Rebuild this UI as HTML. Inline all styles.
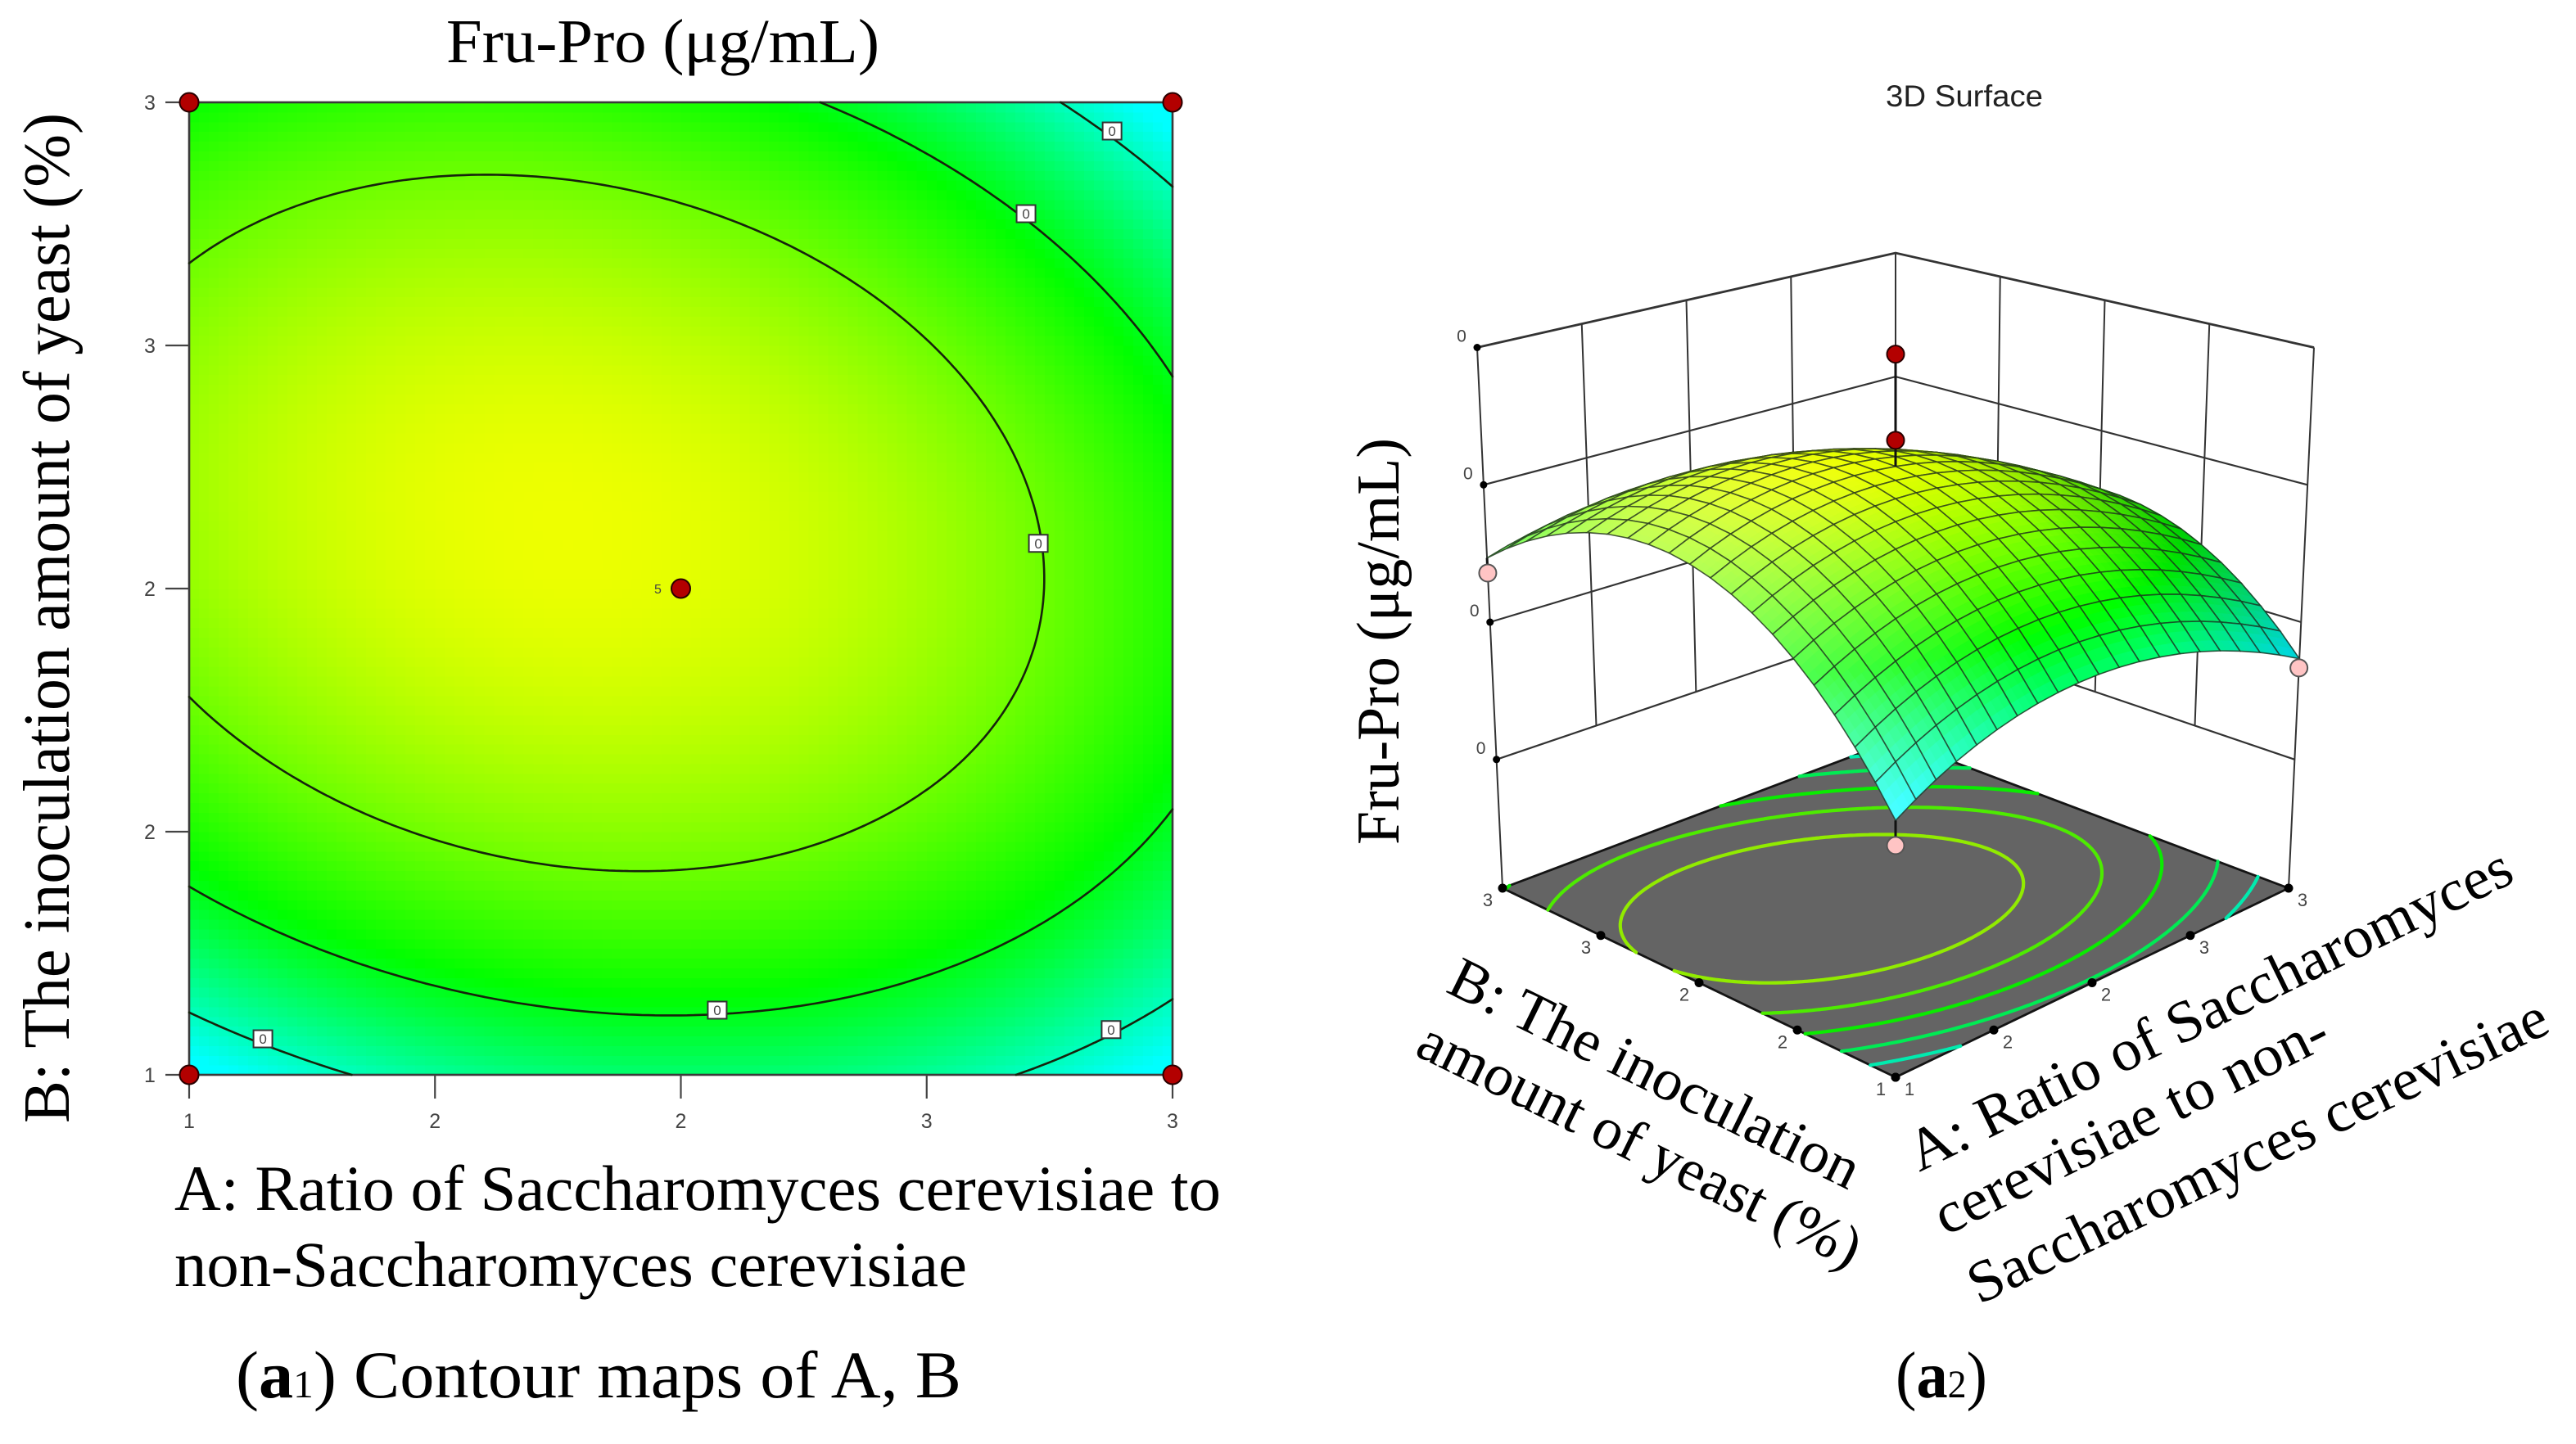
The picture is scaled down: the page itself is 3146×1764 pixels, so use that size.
<!DOCTYPE html>
<html lang="en">
<head>
<meta charset="utf-8">
<title>Fru-Pro contour map and 3D surface</title>
<style>
html,body{margin:0;padding:0;background:#fff;}
svg{display:block;}
.serif{font-family:"Liberation Serif","Noto Serif CJK SC",serif;fill:#000;}
.sans{font-family:"Liberation Sans",sans-serif;fill:#444;}
</style>
</head>
<body>
<svg id="figure" xmlns="http://www.w3.org/2000/svg" width="3146" height="1764" viewBox="0 0 3146 1764">
  <rect x="0" y="0" width="3146" height="1764" fill="#fff"/>

  <g id="contour-panel"></g>
  <g id="surface-panel"></g>

  <text class="serif" x="545" y="76" font-size="76" textLength="529" lengthAdjust="spacingAndGlyphs">Fru-Pro (μg/mL)</text>
  <text class="serif" transform="translate(84,1372) rotate(-90)" font-size="80" textLength="1234" lengthAdjust="spacingAndGlyphs">B: The inoculation amount of yeast (%)</text>
  <text class="serif" x="213" y="1478" font-size="78" textLength="1278" lengthAdjust="spacingAndGlyphs">A: Ratio of Saccharomyces cerevisiae to</text>
  <text class="serif" x="213" y="1571" font-size="78" textLength="968" lengthAdjust="spacingAndGlyphs">non-Saccharomyces cerevisiae</text>
  <text class="serif" x="288" y="1707" font-size="82" textLength="886" lengthAdjust="spacingAndGlyphs">(<tspan font-weight="bold">a</tspan><tspan font-size="48">1</tspan>) Contour maps of A, B</text>

  <text class="sans" x="2303" y="130" font-size="37" textLength="192" lengthAdjust="spacingAndGlyphs" style="fill:#222">3D Surface</text>
  <text class="serif" transform="translate(1708,1032) rotate(-90)" font-size="74" textLength="497" lengthAdjust="spacingAndGlyphs">Fru-Pro (μg/mL)</text>
  <text class="serif" transform="translate(1764,1211) rotate(26.2)" font-size="72" textLength="550" lengthAdjust="spacingAndGlyphs">B: The inoculation</text>
  <text class="serif" transform="translate(1726,1288) rotate(26.2)" font-size="72" textLength="594" lengthAdjust="spacingAndGlyphs">amount of yeast (%)</text>
  <text class="serif" transform="translate(2344,1432) rotate(-26)" font-size="72" textLength="812" lengthAdjust="spacingAndGlyphs">A: Ratio of Saccharomyces</text>
  <text class="serif" transform="translate(2376,1510) rotate(-26.3)" font-size="72" textLength="528" lengthAdjust="spacingAndGlyphs">cerevisiae to non-</text>
  <text class="serif" transform="translate(2417,1594) rotate(-25.5)" font-size="72" textLength="776" lengthAdjust="spacingAndGlyphs">Saccharomyces cerevisiae</text>
  <text class="serif" x="2315" y="1707" font-size="80" textLength="112" lengthAdjust="spacingAndGlyphs">(<tspan font-weight="bold">a</tspan><tspan font-size="48">2</tspan>)</text>
</svg>

<script>
/* ---------- chart data ---------- */
/* Response model in coded factors u=A-2, v=B-2: [intercept, u, v, uv, u^2, v^2] */
var modelCoefficients = [0.41874, -0.01881, 0.01787, -0.01935, -0.04462, -0.0834];

var factorTicks = [1, 1.5, 2, 2.5, 3];
var factorTickLabels = ['1', '2', '2', '3', '3'];

var contourLevels = [0.3805, 0.3388, 0.2971];
var floorContourLevels = [0.3963, 0.3722, 0.3485, 0.3221, 0.2971];

var contourLabelA = [2.877, 2.702, 2.727, 1.15, 2.074, 2.875];
var contourLabelB = [2.941, 2.771, 2.093, 1.074, 1.133, 1.093];
var contourLabelText = ['0', '0', '0', '0', '0', '0'];

var designPointA = [1, 1, 3, 3, 2];
var designPointB = [1, 3, 1, 3, 2];

var surfacePointA = [1, 1, 3, 2, 2];
var surfacePointB = [1, 3, 1, 2, 2];
var surfacePointZ = [0.2561, 0.3358, 0.2667, 0.4999, 0.4376];
var surfacePointKind = ['low', 'low', 'low', 'high', 'high'];

var zTicks = [0.2, 0.3, 0.4, 0.5];
var zTickLabels = ['0', '0', '0', '0'];
var zFloor = 0.1063;
var zTop = 0.5;

var colorStopZ = [0.2804, 0.3451, 0.4222];
var colorStopR = [0, 0, 238];
var colorStopG = [255, 255, 255];
var colorStopB = [255, 0, 0];

/* ---------- shared helpers ---------- */
var NS = 'http://www.w3.org/2000/svg';
function mk(tag, attrs, parent) {
  var el = document.createElementNS(NS, tag);
  for (var k in attrs) el.setAttribute(k, attrs[k]);
  parent.appendChild(el);
  return el;
}
function modelZ(A, B) {
  var u = A - 2, v = B - 2, c = modelCoefficients;
  return c[0] + c[1] * u + c[2] * v + c[3] * u * v + c[4] * u * u + c[5] * v * v;
}
function modelGrad(A, B) {
  var u = A - 2, v = B - 2, c = modelCoefficients;
  return [c[1] + c[3] * v + 2 * c[4] * u, c[2] + c[3] * u + 2 * c[5] * v];
}
function colorParts(z) {
  var n = colorStopZ.length;
  if (z <= colorStopZ[0]) return [colorStopR[0], colorStopG[0], colorStopB[0]];
  if (z >= colorStopZ[n - 1]) return [colorStopR[n - 1], colorStopG[n - 1], colorStopB[n - 1]];
  for (var i = 0; i < n - 1; i++) {
    if (z <= colorStopZ[i + 1]) {
      var t = (z - colorStopZ[i]) / (colorStopZ[i + 1] - colorStopZ[i]);
      return [
        colorStopR[i] + t * (colorStopR[i + 1] - colorStopR[i]),
        colorStopG[i] + t * (colorStopG[i + 1] - colorStopG[i]),
        colorStopB[i] + t * (colorStopB[i + 1] - colorStopB[i])
      ];
    }
  }
}
function rgb(p) {
  return 'rgb(' + Math.round(p[0]) + ',' + Math.round(p[1]) + ',' + Math.round(p[2]) + ')';
}
/* marching squares over the factor domain; mapper turns (A,B) into screen [x,y] */
function contourPath(level, mapper) {
  var N = 150, d = '';
  var h = 2 / N;
  for (var i = 0; i < N; i++) {
    for (var j = 0; j < N; j++) {
      var A0 = 1 + i * h, A1 = A0 + h, B0 = 1 + j * h, B1 = B0 + h;
      var z00 = modelZ(A0, B0) - level, z10 = modelZ(A1, B0) - level;
      var z01 = modelZ(A0, B1) - level, z11 = modelZ(A1, B1) - level;
      var pts = [];
      if (z00 * z10 < 0) pts.push([A0 + h * z00 / (z00 - z10), B0]);
      if (z10 * z11 < 0) pts.push([A1, B0 + h * z10 / (z10 - z11)]);
      if (z01 * z11 < 0) pts.push([A0 + h * z01 / (z01 - z11), B1]);
      if (z00 * z01 < 0) pts.push([A0, B0 + h * z00 / (z00 - z01)]);
      if (pts.length >= 2) {
        var p = mapper(pts[0][0], pts[0][1]), q = mapper(pts[1][0], pts[1][1]);
        d += 'M' + p[0].toFixed(1) + ' ' + p[1].toFixed(1) + 'L' + q[0].toFixed(1) + ' ' + q[1].toFixed(1);
      }
    }
  }
  return d;
}

/* ---------- contour panel ---------- */
(function () {
  var root = document.getElementById('contour-panel');
  var L = 231, R = 1432, T = 125, Bm = 1313;
  function xA(A) { return L + (A - 1) / 2 * (R - L); }
  function yB(B) { return Bm - (B - 1) / 2 * (Bm - T); }
  function mapper(A, B) { return [xA(A), yB(B)]; }

  var cells = mk('g', {'shape-rendering': 'crispEdges'}, root);
  
  
  var N = 100;
  for (var i = 0; i < N; i++) {
    for (var j = 0; j < N; j++) {
      var A0 = 1 + 2 * i / N, A1 = 1 + 2 * (i + 1) / N;
      var B0 = 1 + 2 * j / N, B1 = 1 + 2 * (j + 1) / N;
      var z = modelZ((A0 + A1) / 2, (B0 + B1) / 2);
      var cell = mk('rect', {
        x: xA(A0).toFixed(2), y: yB(B1).toFixed(2),
        width: (xA(A1) - xA(A0) + 0.6).toFixed(2), height: (yB(B0) - yB(B1) + 0.6).toFixed(2),
        fill: rgb(colorParts(z))
      }, cells);
      
      
    }
  }

  var frame = mk('rect', {x: L, y: T, width: R - L, height: Bm - T, fill: 'none', stroke: '#3a3a3a', 'stroke-width': 2.6}, root);
  
  

  contourLevels.forEach(function (lv) {
    var line = mk('path', {d: contourPath(lv, mapper), fill: 'none', stroke: '#16230c', 'stroke-width': 2.6, 'stroke-linecap': 'round'}, root);
    
    
  });

  factorTicks.forEach(function (t, i) {
    var x = xA(t), y = yB(t);
    var tx = mk('line', {x1: x, x2: x, y1: Bm, y2: Bm + 29, stroke: '#444', 'stroke-width': 2.2}, root);
    
    
    var lx = mk('text', {x: x, y: Bm + 65, 'text-anchor': 'middle', 'font-size': 25, 'class': 'sans'}, root);
    
    
    lx.textContent = factorTickLabels[i];
    var ty = mk('line', {x1: L - 29, x2: L, y1: y, y2: y, stroke: '#444', 'stroke-width': 2.2}, root);
    
    
    var ly = mk('text', {x: L - 48, y: y + 9, 'text-anchor': 'middle', 'font-size': 25, 'class': 'sans'}, root);
    
    
    ly.textContent = factorTickLabels[i];
  });

  contourLabelA.forEach(function (A, i) {
    var x = xA(A), y = yB(contourLabelB[i]);
    var box = mk('rect', {x: x - 11.5, y: y - 10.5, width: 23, height: 21, fill: '#fff', stroke: '#333', 'stroke-width': 2}, root);
    
    
    var tx = mk('text', {x: x, y: y + 6, 'text-anchor': 'middle', 'font-size': 17, 'class': 'sans'}, root);
    
    
    tx.textContent = contourLabelText[i];
  });

  designPointA.forEach(function (A, i) {
    var pt = mk('circle', {cx: xA(A), cy: yB(designPointB[i]), r: 11.5, fill: '#b30000', stroke: '#2a0000', 'stroke-width': 2}, root);
    
    
  });
  var rep = mk('text', {x: xA(2) - 28, y: yB(2) + 6, 'text-anchor': 'middle', 'font-size': 16, 'class': 'sans'}, root);
  
  
  rep.textContent = '5';
})();

/* ---------- 3D surface panel ---------- */
(function () {
  var root = document.getElementById('surface-panel');

  /* bilinear camera: a,b in [0,1] from the front corner, h in [0,1] floor to top */
  function cam(a, b, h) {
    return [
      2315 + (480 + 31 * h) * (a - b),
      (1316 - 744 * h) + (-231 + 83.5 * h) * (a + b) + (50 - 18 * h) * a * b
    ];
  }
  function hOf(z) { return (z - zFloor) / (zTop - zFloor); }
  function proj(A, B, z) { return cam((A - 1) / 2, (B - 1) / 2, hOf(z)); }
  function pstr(p) { return p[0].toFixed(1) + ',' + p[1].toFixed(1); }

  /* walls */
  var walls = mk('g', {stroke: '#333', fill: 'none'}, root);
  
  
  zTicks.forEach(function (z, i) {
    var w = (i === zTicks.length - 1) ? 2.8 : 2.2;
    var line = mk('polyline', {
      points: pstr(proj(1, 3, z)) + ' ' + pstr(proj(3, 3, z)) + ' ' + pstr(proj(3, 1, z)),
      'stroke-width': w
    }, walls);
    
    
  });
  factorTicks.forEach(function (t) {
    var lo = zTicks[0], hi = zTicks[zTicks.length - 1];
    var isEdge = (t === factorTicks[0]);
    var p1 = proj(t, 3, isEdge ? zFloor : lo), p2 = proj(t, 3, hi);
    var v1 = mk('line', {x1: p1[0], y1: p1[1], x2: p2[0], y2: p2[1], 'stroke-width': 2}, walls);
    
    
    var p3 = proj(3, t, isEdge ? zFloor : lo), p4 = proj(3, t, hi);
    var v2 = mk('line', {x1: p3[0], y1: p3[1], x2: p4[0], y2: p4[1], 'stroke-width': 2}, walls);
    
    
  });

  /* z ticks */
  zTicks.forEach(function (z, i) {
    var p = proj(1, 3, z);
    var dot = mk('circle', {cx: p[0], cy: p[1], r: 4.5, fill: '#000'}, root);
    
    
    var lb = mk('text', {x: p[0] - 19, y: p[1] - 7, 'text-anchor': 'middle', 'font-size': 21, 'class': 'sans'}, root);
    
    
    lb.textContent = zTickLabels[i];
  });

  /* floor */
  var floor = mk('polygon', {
    points: [proj(1, 1, zFloor), proj(3, 1, zFloor), proj(3, 3, zFloor), proj(1, 3, zFloor)].map(pstr).join(' '),
    fill: '#646464', stroke: '#141414', 'stroke-width': 2.8
  }, root);
  
  

  floorContourLevels.forEach(function (lv) {
    var c = colorParts(lv);
    var fl = mk('path', {
      d: contourPath(lv, function (A, B) { return proj(A, B, zFloor); }),
      fill: 'none', stroke: rgb([c[0] * 0.92, c[1] * 0.92, c[2] * 0.92]), 'stroke-width': 4.2, 'stroke-linecap': 'round'
    }, root);
    
    
  });

  /* floor ticks */
  factorTicks.forEach(function (t, i) {
    var pb = proj(1, t, zFloor);
    var d1 = mk('circle', {cx: pb[0], cy: pb[1], r: 5.5, fill: '#000'}, root);
    
    
    var l1 = mk('text', {x: pb[0] - 18, y: pb[1] + 22, 'text-anchor': 'middle', 'font-size': 22, 'class': 'sans'}, root);
    
    
    l1.textContent = factorTickLabels[i];
    var pa = proj(t, 1, zFloor);
    var d2 = mk('circle', {cx: pa[0], cy: pa[1], r: 5.5, fill: '#000'}, root);
    
    
    var l2 = mk('text', {x: pa[0] + 17, y: pa[1] + 22, 'text-anchor': 'middle', 'font-size': 22, 'class': 'sans'}, root);
    
    
    l2.textContent = factorTickLabels[i];
  });

  /* shaded surface, painted back to front */
  function shaded(A, B) {
    var g = modelGrad(A, B);
    var da = g[0] * 2 / (zTop - zFloor), db = g[1] * 2 / (zTop - zFloor);
    var c = colorParts(modelZ(A, B));
    var white = Math.max(0, 0.06 + 0.85 * da - 0.16 * db);
    var dark = da < -0.15 ? 1 + 0.55 * (da + 0.15) : 1;
    return [
      (c[0] + (255 - c[0]) * white) * dark,
      (c[1] + (255 - c[1]) * white) * dark,
      (c[2] + (255 - c[2]) * white) * dark
    ];
  }
  var surf = mk('g', {}, root);
  
  
  var M = 20, S = 3, step = 2 / M, sub = step / S;
  for (var i = M - 1; i >= 0; i--) {
    for (var j = M - 1; j >= 0; j--) {
      var A0 = 1 + i * step, B0 = 1 + j * step;
      for (var si = S - 1; si >= 0; si--) {
        for (var sj = S - 1; sj >= 0; sj--) {
          var a0 = A0 + si * sub, a1 = a0 + sub, b0 = B0 + sj * sub, b1 = b0 + sub;
          var col = rgb(shaded(a0 + sub / 2, b0 + sub / 2));
          var q = mk('polygon', {
            points: [proj(a0, b0, modelZ(a0, b0)), proj(a1, b0, modelZ(a1, b0)), proj(a1, b1, modelZ(a1, b1)), proj(a0, b1, modelZ(a0, b1))].map(pstr).join(' '),
            fill: col, stroke: col, 'stroke-width': 0.8
          }, surf);
          
          
        }
      }
      var A1 = A0 + step, B1 = B0 + step;
      var outline = mk('polygon', {
        points: [proj(A0, B0, modelZ(A0, B0)), proj(A1, B0, modelZ(A1, B0)), proj(A1, B1, modelZ(A1, B1)), proj(A0, B1, modelZ(A0, B1))].map(pstr).join(' '),
        fill: 'none', stroke: '#1c2a1c', 'stroke-width': 1.6, 'stroke-opacity': 0.78
      }, surf);
      
      
    }
  }

  /* design points with residual stems */
  surfacePointA.forEach(function (A, i) {
    var B = surfacePointB[i], z = surfacePointZ[i];
    var p = proj(A, B, z), s = proj(A, B, modelZ(A, B));
    var stem = mk('line', {x1: p[0], y1: p[1], x2: s[0], y2: s[1], stroke: '#111', 'stroke-width': 3}, root);
    
    
  });
  surfacePointA.forEach(function (A, i) {
    var B = surfacePointB[i], z = surfacePointZ[i];
    var p = proj(A, B, z);
    var high = surfacePointKind[i] === 'high';
    var dot = mk('circle', {cx: p[0], cy: p[1], r: 10.5, fill: high ? '#b30000' : '#ffc4c4', stroke: high ? '#2a0000' : '#555', 'stroke-width': 2}, root);
    
    
  });
})();
</script>
</body>
</html>
